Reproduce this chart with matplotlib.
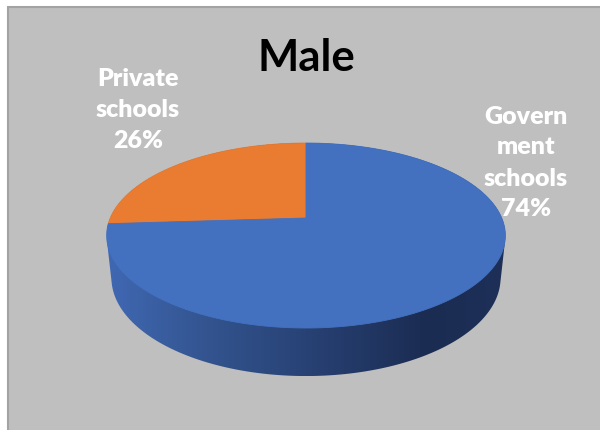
import numpy as np
import matplotlib
matplotlib.use("Agg")
import matplotlib.pyplot as plt
from matplotlib.patches import Polygon, Rectangle
from matplotlib.colors import LinearSegmentedColormap

# Data
title = "Male"
categories = ["Private\nschools", "Govern\nment\nschools"]
shares = [26, 74]
slice_colors = ["#e97c30", "#4371c0"]
label_pos = [(138, 110), (526, 163)]

W, H = 600, 430
fig = plt.figure(figsize=(W / 100, H / 100), dpi=100)
ax = fig.add_axes([0, 0, 1, 1])
ax.set_xlim(0, W)
ax.set_ylim(H, 0)
ax.axis("off")

# chart area panel
ax.add_patch(Rectangle((7.5, 6.5), W, H, facecolor="#bfbfbf",
                       edgecolor="#a3a3a3", lw=1.5, zorder=0))

# simple perspective camera for a unit disk
X0, Y0 = 306, 218
F, D = 920.0, 4.70
elev = np.radians(27.1)
thick = 0.245


def project(x, y, z):
    s, c = np.sin(elev), np.cos(elev)
    yc = y * s + z * c
    zc = D + y * c - z * s
    return X0 + F * x / zc, Y0 - F * yc / zc


def hull(pts):
    pts = sorted(map(tuple, pts))

    def cross(o, a, b):
        return (a[0] - o[0]) * (b[1] - o[1]) - (a[1] - o[1]) * (b[0] - o[0])

    lower, upper = [], []
    for p in pts:
        while len(lower) >= 2 and cross(lower[-2], lower[-1], p) <= 0:
            lower.pop()
        lower.append(p)
    for p in reversed(pts):
        while len(upper) >= 2 and cross(upper[-2], upper[-1], p) <= 0:
            upper.pop()
        upper.append(p)
    return np.array(lower[:-1] + upper[:-1])


# side wall of the cylinder
t = np.linspace(0, 2 * np.pi, 720, endpoint=False)
top_rim = np.column_stack(project(np.cos(t), np.sin(t), 0 * t))
bot_rim = np.column_stack(project(np.cos(t), np.sin(t), -thick + 0 * t))
wall = hull(np.vstack([top_rim, bot_rim]))
wall_patch = Polygon(wall, closed=True, facecolor="none", edgecolor="none")
ax.add_patch(wall_patch)

side_cmap = LinearSegmentedColormap.from_list(
    "side",
    [(0.0, "#4068b3"), (0.25, "#33548f"), (0.5, "#284275"),
     (0.8, "#1b2c52"), (1.0, "#1e3058")])
x_lo, x_hi = wall[:, 0].min(), wall[:, 0].max()
y_lo, y_hi = wall[:, 1].min(), wall[:, 1].max()
grad = np.tile(np.linspace(0, 1, 256), (2, 1))
img = ax.imshow(grad, cmap=side_cmap, aspect="auto",
                extent=(x_lo, x_hi, y_hi, y_lo), zorder=1)
img.set_clip_path(wall_patch)
ax.set_xlim(0, W)
ax.set_ylim(H, 0)

# top face slices, counter-clockwise from 12 o'clock
start = 90.0
total = float(sum(shares))
for val, col in zip(shares, slice_colors):
    sweep = 360.0 * val / total
    a = np.radians(np.linspace(start, start + sweep, 200))
    xs, ys = project(np.cos(a), np.sin(a), 0 * a)
    cx, cy = project(0.0, 0.0, 0.0)
    pts = np.vstack([[cx, cy], np.column_stack([xs, ys])])
    ax.add_patch(Polygon(pts, closed=True, facecolor=col, edgecolor=col,
                         lw=0.6, zorder=2))
    start += sweep

# title and data labels
ax.text(306, 58, title, ha="center", va="center", fontsize=31.5,
        fontweight="bold", family=["Lato", "DejaVu Sans"], color="black",
        zorder=3)
for name, val, (lx, ly) in zip(categories, shares, label_pos):
    ax.text(lx, ly, f"{name}\n{val}%", ha="center", va="center",
            fontsize=18, fontweight="heavy", family=["Lato", "DejaVu Sans"],
            color="white", linespacing=1.5, zorder=3)

fig.savefig("out.png", dpi=100)
